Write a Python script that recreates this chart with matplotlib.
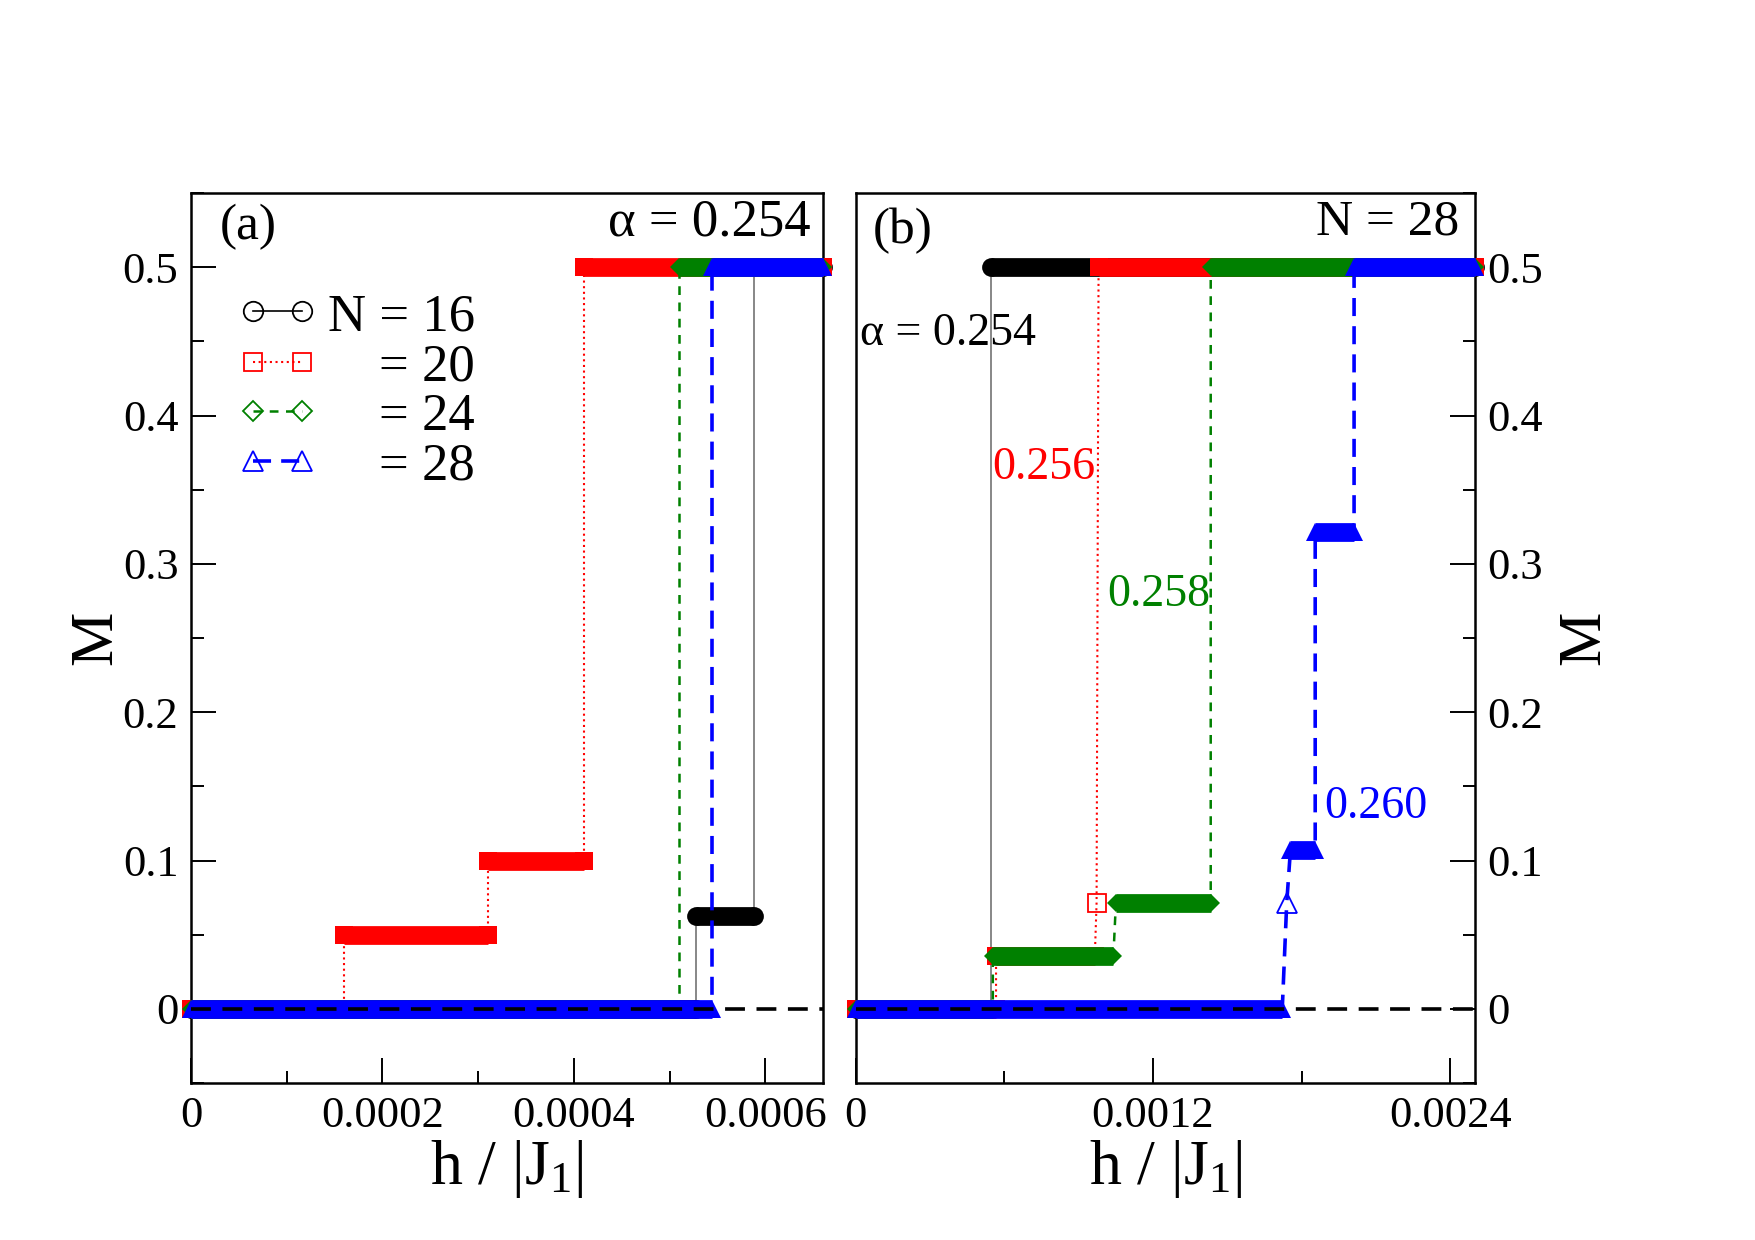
"""Magnetisation steps M(h) for the two panels: (a) alpha = 0.254 at several N,
(b) N = 28 at several alpha."""

import matplotlib

matplotlib.use("Agg")
import matplotlib.pyplot as plt
from matplotlib.ticker import FuncFormatter, MultipleLocator

plt.rcParams["font.family"] = ["Liberation Serif", "DejaVu Serif"]
plt.rcParams["mathtext.fontset"] = "custom"
plt.rcParams["mathtext.rm"] = "Liberation Serif"
plt.rcParams["mathtext.it"] = "Liberation Serif:italic"

# ---- panel (a): alpha = 0.254, plateaus given as (start field, end field, M)
A16_START = [0.0, 0.000527, 0.000588]
A16_END = [0.000527, 0.000588, 0.00066]
A16_M = [0.0, 1 / 16, 0.5]

A20_START = [0.0, 0.000160, 0.000310, 0.000411]
A20_END = [0.000160, 0.000310, 0.000411, 0.00066]
A20_M = [0.0, 0.05, 0.10, 0.5]

A24_START = [0.0, 0.000510]
A24_END = [0.000510, 0.00066]
A24_M = [0.0, 0.5]

A28_START = [0.0, 0.000544]
A28_END = [0.000544, 0.00066]
A28_M = [0.0, 0.5]

A_LEGEND = ["N = 16", "= 20", "= 24", "= 28"]

# ---- panel (b): N = 28, alpha = 0.254 / 0.256 / 0.258 / 0.260
B254_START = [0.0, 0.000544]
B254_END = [0.000544, 0.0025]
B254_M = [0.0, 0.5]

B256_START = [0.0, 0.000566, 0.000972, 0.000980]
B256_END = [0.000566, 0.000965, 0.000972, 0.0025]
B256_M = [0.0, 1 / 28, 2 / 28, 0.5]

B258_START = [0.0, 0.000553, 0.001050, 0.001433]
B258_END = [0.000553, 0.001040, 0.001433, 0.0025]
B258_M = [0.0, 1 / 28, 2 / 28, 0.5]

B260_START = [0.0, 0.001740, 0.001755, 0.001855, 0.002012]
B260_END = [0.001722, 0.001740, 0.001855, 0.002012, 0.0025]
B260_M = [0.0, 2 / 28, 3 / 28, 9 / 28, 0.5]

B_LABELS = ["0.256", "0.258", "0.260"]
B_LABEL_H = [0.000552, 0.001014, 0.00189]
B_LABEL_M = [0.3575, 0.2715, 0.129]

BAR_LW = 13.5  # pt, height of the dense-marker "bars"

STYLES = {
    "black": dict(c="black", line="0.45", ls="-", lw=1.2, mk="o", ms=BAR_LW, lms=14),
    "red": dict(c="red", line="red", ls=(0, (1, 1.7)), lw=1.5, mk="s", ms=BAR_LW, lms=13),
    "green": dict(c="green", line="green", ls=(0, (3.5, 3)), lw=1.8, mk="D", ms=BAR_LW / 1.414, lms=10.5),
    "blue": dict(c="blue", line="blue", ls=(0, (5, 2.8)), lw=2.6, mk="^", ms=BAR_LW, lms=14),
}


def draw_series(ax, starts, ends, levels, st, z):
    xs, ys = [], []
    for s, e, m in zip(starts, ends, levels):
        xs += [s, e]
        ys += [m, m]
    ax.plot(xs, ys, color=st["line"], ls=st["ls"], lw=st["lw"], zorder=z)
    for s, e, m in zip(starts, ends, levels):
        if e > s:
            ax.plot([s, e], [m, m], color=st["c"], lw=BAR_LW, solid_capstyle="butt",
                    marker=st["mk"], ms=st["ms"], mew=0, clip_on=False, zorder=z + 0.5)
        else:
            ax.plot([s], [m], ls="none", marker=st["mk"], ms=st["lms"], mfc="none",
                    mec=st["c"], mew=1.3, clip_on=False, zorder=z + 0.5)


def style_axes(ax, xmax, xmajor, xminor, side):
    ax.set_xlim(0, xmax)
    ax.set_ylim(-0.05, 0.55)
    ax.xaxis.set_major_locator(MultipleLocator(xmajor))
    ax.xaxis.set_minor_locator(MultipleLocator(xminor))
    ax.yaxis.set_major_locator(MultipleLocator(0.1))
    ax.yaxis.set_minor_locator(MultipleLocator(0.05))
    fmt = FuncFormatter(lambda v, _: "0" if abs(v) < 1e-12 else f"{v:g}")
    ax.xaxis.set_major_formatter(fmt)
    ax.yaxis.set_major_formatter(fmt)
    left = side == "left"
    ax.tick_params(which="both", direction="in", top=False, bottom=True,
                   left=left, right=not left, labelleft=left, labelright=not left,
                   labelsize=32, width=1.4)
    ax.tick_params(which="major", length=18, pad=9)
    ax.tick_params(which="minor", length=9)
    for sp in ax.spines.values():
        sp.set_linewidth(1.8)
    ax.axhline(0, color="black", lw=2.6, dashes=(5.5, 3.2), zorder=20)
    ax.set_xlabel(r"h / |J$_1$|", fontsize=46, labelpad=2)
    ax.set_ylabel("M", fontsize=44, labelpad=-1 if left else 10)
    if not left:
        ax.yaxis.set_label_position("right")


fig = plt.figure(figsize=(17.55, 12.4), dpi=100)
ax_a = fig.add_axes([0.1088, 0.1266, 0.3601, 0.7177])
ax_b = fig.add_axes([0.4877, 0.1266, 0.3527, 0.7177])

# panel (a)
series_a = [
    (A16_START, A16_END, A16_M, "black"),
    (A20_START, A20_END, A20_M, "red"),
    (A24_START, A24_END, A24_M, "green"),
    (A28_START, A28_END, A28_M, "blue"),
]
for i, (s, e, m, key) in enumerate(series_a):
    draw_series(ax_a, s, e, m, STYLES[key], z=3 + i)
style_axes(ax_a, 0.00066, 0.0002, 0.0001, "left")

# hand-made legend (labels right-aligned so the "=" signs line up)
leg_y = [0.867, 0.810, 0.755, 0.699]
for (s, e, m, key), label, y in zip(series_a, A_LEGEND, leg_y):
    st = STYLES[key]
    ax_a.plot([0.098, 0.176], [y, y], transform=ax_a.transAxes, color=st["c"],
              ls=st["ls"], lw=st["lw"] if key != "black" else 1.2, marker=st["mk"],
              ms=st["lms"], mfc="none", mec=st["c"], mew=1.3, zorder=25)
    ax_a.text(0.449, y - 0.021, label, transform=ax_a.transAxes, ha="right",
              va="baseline", fontsize=38)

ax_a.text(0.046, 0.948, "(a)", transform=ax_a.transAxes, fontsize=37, va="baseline")
ax_a.text(0.981, 0.952, "α = 0.254", transform=ax_a.transAxes, fontsize=38,
          ha="right", va="baseline")

# panel (b)
series_b = [
    (B254_START, B254_END, B254_M, "black"),
    (B256_START, B256_END, B256_M, "red"),
    (B258_START, B258_END, B258_M, "green"),
    (B260_START, B260_END, B260_M, "blue"),
]
for i, (s, e, m, key) in enumerate(series_b):
    draw_series(ax_b, s, e, m, STYLES[key], z=3 + i)
style_axes(ax_b, 0.0025, 0.0012, 0.0006, "right")

ax_b.text(0.027, 0.944, "(b)", transform=ax_b.transAxes, fontsize=37, va="baseline")
ax_b.text(0.975, 0.953, "N = 28", transform=ax_b.transAxes, fontsize=37,
          ha="right", va="baseline")
ax_b.text(0.006, 0.829, "α = 0.254", transform=ax_b.transAxes, fontsize=33,
          va="baseline", zorder=30)
for label, h, m, key in zip(B_LABELS, B_LABEL_H, B_LABEL_M, ["red", "green", "blue"]):
    ax_b.text(h, m, label, color=STYLES[key]["c"], fontsize=33, va="baseline", zorder=30)

fig.savefig("out.png", dpi=100)
